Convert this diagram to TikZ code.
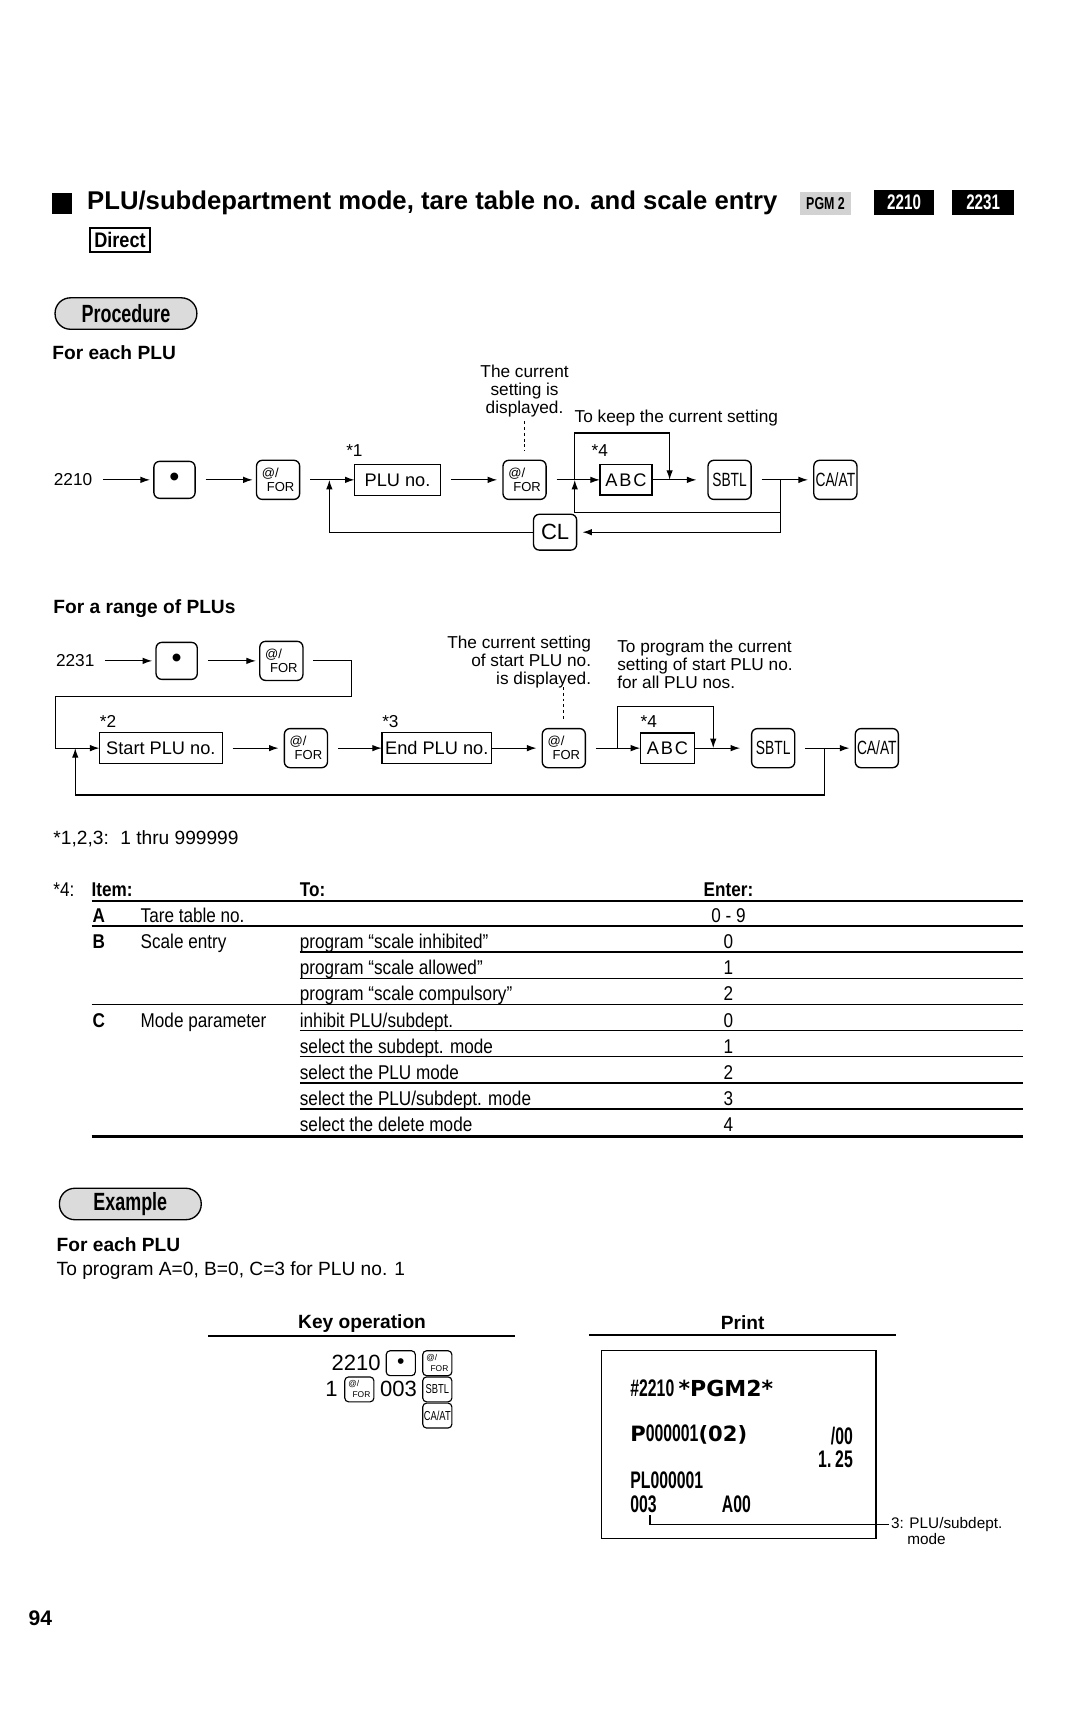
\documentclass[tikz,border=0pt]{standalone}
\usepackage{fontspec}
\setmainfont{Liberation Sans}
\newfontfamily\narrowsf[FakeStretch=0.86]{Liberation Sans}
\newfontfamily\keysf[FakeStretch=0.72]{Liberation Sans}
\newfontfamily\tillsf[FakeStretch=0.66]{Liberation Sans}
\newfontfamily\widesf{DejaVu Sans}
\usetikzlibrary{arrows.meta}

% caption of the @/FOR key
\newcommand{\atfor}[2][0.6pt]{\makebox[#2][l]{@/}\\[#1]\makebox[#2][r]{FOR}}

\begin{document}
\begin{tikzpicture}[x=0.02cm, y=-0.02cm,
    every node/.style={inner sep=0pt, outer sep=0pt},
    txt/.style={font=\fontsize{9}{9.4}\selectfont},
    key/.style={draw, rounded corners=3pt, line width=0.7pt, minimum width=22.5pt, minimum height=20.4pt},
    forkey/.style={key, align=center, font=\fontsize{6.8}{6.8}\selectfont},
    namekey/.style={key, font=\keysf\fontsize{10}{10}\selectfont},
    dotkey/.style={key, minimum width=21.5pt, minimum height=19.3pt, font=\fontsize{15}{15}\selectfont},
    entry/.style={draw, line width=0.7pt, minimum height=16.2pt, font=\fontsize{9.5}{9.5}\selectfont},
    star/.style={font=\fontsize{9}{9}\selectfont},
    arr/.style={-{Latex[length=5pt,width=3.4pt]}, line width=0.6pt},
    hint/.style={line width=0.6pt, dash pattern=on 1.5pt off 1.5pt},
    pill/.style={draw, fill=gray!28, rounded corners=8pt, line width=0.7pt, minimum width=74pt, minimum height=16.4pt, font=\keysf\bfseries\fontsize{13}{13}\selectfont},
    head/.style={anchor=west, font=\bfseries\fontsize{10}{10}\selectfont},
    tcell/.style={anchor=west, text height=7.4pt, text depth=2pt, font=\narrowsf\fontsize{10.4}{10.4}\selectfont},
    thcell/.style={tcell, font=\narrowsf\bfseries\fontsize{10.4}{10.4}\selectfont},
    smallkey/.style={draw, rounded corners=2pt, line width=0.6pt, minimum width=15.2pt, minimum height=13pt},
    smallfor/.style={smallkey, align=center, font=\fontsize{4.4}{4.4}\selectfont},
    till/.style={anchor=west, font=\tillsf\bfseries\fontsize{12.5}{12.5}\selectfont}
]
    \fill[white] (0,0) rectangle (990,1568);
    \useasboundingbox (0,0) rectangle (990,1568);

    % Heading
    \node[fill=black, minimum width=10.2pt, minimum height=10.8pt] (mark) at (57,186.5) {};
    \node[anchor=west, font=\bfseries\fontsize{13.4}{13.4}\selectfont] (title) at (80,186) {PLU/subdepartment mode, tare table no. and scale entry};
    \node[fill=gray!35, minimum width=27pt, minimum height=12pt, font=\keysf\bfseries\fontsize{9}{9}\selectfont] (pgm) at (757,186.5) {PGM 2};
    \node[fill=black, text=white, minimum width=31.7pt, minimum height=13pt, font=\keysf\bfseries\fontsize{11}{11}\selectfont] (mode1) at (829,185.5) {2210};
    \node[fill=black, text=white, minimum width=32.3pt, minimum height=13pt, font=\keysf\bfseries\fontsize{11}{11}\selectfont] (mode2) at (901.5,185.5) {2231};
    \node[draw, line width=1pt, minimum width=31.7pt, minimum height=12.5pt, font=\narrowsf\bfseries\fontsize{11}{11}\selectfont] (direct) at (110,220) {Direct};

    \node[pill] (proc) at (115.5,287.5) {Procedure};
    \node[head] (each) at (48,323) {For each PLU};

    % For each PLU
    \node[txt] (t2210) at (67,440) {2210};
    \node[dotkey] (dotA) at (160,440) {\textbullet};
    \node[forkey] (forA) at (255,440) {\atfor{17pt}};
    \node[star] (st1) at (325,413) {*1};
    \node[entry, minimum width=44.8pt] (plu) at (364.5,440) {PLU no.};
    \node[forkey] (forB) at (481,440) {\atfor{17pt}};
    \node[txt, align=center] (noteA) at (481,359) {The current\\setting is\\displayed.};
    \node[txt, anchor=west] (noteB) at (527,383) {To keep the current setting};
    \node[star] (st4a) at (550,413) {*4};
    \node[entry, minimum width=27.2pt, minimum height=15.9pt] (abcA) at (574,440) {A\kern1pt B\kern1pt C};
    \node[namekey] (sbtlA) at (669,440) {SBTL};
    \node[namekey] (caatA) at (766,440) {CA/AT};
    \node[key, font=\fontsize{11.5}{11.5}\selectfont, minimum height=18.7pt] (clA) at (509,488) {CL};

    \coordinate (jA1) at (302,440);
    \coordinate (jA2) at (527,440);
    \coordinate (kA) at (614,440);
    \coordinate (kAtop) at (614,397);
    \coordinate (jA3) at (716,440);
    \coordinate (lpA) at (527,470);

    \draw[arr, shorten <=5.5pt, shorten >=2pt] (t2210) -- (dotA);
    \draw[arr, shorten <=5.5pt, shorten >=2pt] (dotA) -- (forA);
    \draw[arr, shorten <=5.5pt] (forA) -- (plu);
    \draw[arr, shorten <=5.5pt, shorten >=3pt] (plu) -- (forB);
    \draw[arr, shorten <=5.5pt] (forB) -- (abcA);
    \draw[arr, shorten >=6pt] (abcA) -- (sbtlA);
    \draw[arr, shorten <=5.5pt, shorten >=3pt] (sbtlA) -- (caatA);
    \draw[arr] (jA2) |- (kAtop) -- (kA);
    \draw[arr] (jA3) |- (lpA) -- (jA2);
    \draw[arr, shorten >=3pt] (jA3) |- (clA);
    \draw[arr] (clA) -| (jA1);
    \draw[hint, shorten <=2pt, shorten >=5pt] (noteA) -- (forB);

    % For a range of PLUs
    \node[head] (range) at (49,558) {For a range of PLUs};
    \node[txt] (t2231) at (69,606) {2231};
    \node[dotkey] (dotB) at (162,606) {\textbullet};
    \node[forkey] (forC) at (258,606) {\atfor{17pt}};
    \coordinate (bA) at (322,606);
    \coordinate (bB) at (51,639);
    \node[star] (st2) at (99,662) {*2};
    \node[entry, minimum width=64pt] (startB) at (147.5,686) {Start PLU no.};
    \node[forkey] (forD) at (280.5,686) {\atfor{17pt}};
    \node[star] (st3) at (358,662) {*3};
    \node[entry, minimum width=57.3pt] (endB) at (400.5,686) {End PLU no.};
    \node[forkey] (forE) at (517,686) {\atfor{17pt}};
    \node[txt, align=right, anchor=east] (noteC) at (542,607) {The current setting\\of start PLU no.\\is displayed.};
    \node[txt, align=left, anchor=west] (noteD) at (566,609) {To program the current\\setting of start PLU no.\\for all PLU nos.};
    \coordinate (hintB) at (517,630);
    \node[star] (st4b) at (595,662) {*4};
    \node[entry, minimum width=28.3pt, minimum height=15.9pt] (abcB) at (612,686) {A\kern1pt B\kern1pt C};
    \node[namekey] (sbtlB) at (709,686) {SBTL};
    \node[namekey] (caatB) at (804,686) {CA/AT};

    \coordinate (jB1) at (69,686);
    \coordinate (jB2) at (566,686);
    \coordinate (kB) at (654,686);
    \coordinate (kBtop) at (654,648);
    \coordinate (jB3) at (756,686);
    \coordinate (lpB) at (69,729);

    \draw[arr, shorten <=5.5pt, shorten >=2pt] (t2231) -- (dotB);
    \draw[arr, shorten <=5.5pt, shorten >=2pt] (dotB) -- (forC);
    \draw[arr, shorten <=5.5pt] (forC) -- (bA) |- (bB) |- (startB);
    \draw[arr, shorten <=5.5pt, shorten >=3pt] (startB) -- (forD);
    \draw[arr, shorten <=5.5pt] (forD) -- (endB);
    \draw[arr, shorten >=3pt] (endB) -- (forE);
    \draw[arr, shorten <=5.5pt] (forE) -- (abcB);
    \draw[arr, shorten >=6pt] (abcB) -- (sbtlB);
    \draw[arr, shorten <=5.5pt, shorten >=3pt] (sbtlB) -- (caatB);
    \draw[arr] (jB2) |- (kBtop) -- (kB);
    \draw[arr] (jB3) |- (lpB) -- (jB1);
    \draw[hint, shorten >=4pt] (hintB) -- (forE);

    \node[anchor=west, font=\fontsize{10}{10}\selectfont] (limits) at (49,769) {*1,2,3:\hspace{0.6em}1 thru 999999};

    % Table *4
    \node[tcell] (t4) at (49,817) {*4:};
    \node[thcell] (thItem) at (84,817) {Item:};
    \node[thcell] (thTo) at (275,817) {To:};
    \node[thcell, anchor=center] (thEnter) at (668,817) {Enter:};
    \draw[line width=1.3pt] (84,826) -- (938,826);

    \node[thcell] (rA) at (85,841) {A};
    \node[tcell] (rAname) at (129,841) {Tare table no.};
    \node[tcell, anchor=center] (rAval) at (668,841) {0 - 9};
    \draw[line width=0.7pt] (84,849) -- (938,849);

    \node[thcell] (rB) at (85,865) {B};
    \node[tcell] (rBname) at (129,865) {Scale entry};
    \node[tcell] (toB1) at (275,865) {program “scale inhibited”};
    \node[tcell, anchor=center] (vB1) at (668,865) {0};
    \draw[line width=0.7pt] (275,873) -- (938,873);
    \node[tcell] (toB2) at (275,889) {program “scale allowed”};
    \node[tcell, anchor=center] (vB2) at (668,889) {1};
    \draw[line width=0.7pt] (275,897) -- (938,897);
    \node[tcell] (toB3) at (275,913) {program “scale compulsory”};
    \node[tcell, anchor=center] (vB3) at (668,913) {2};
    \draw[line width=0.7pt] (84,921) -- (938,921);

    \node[thcell] (rC) at (85,937) {C};
    \node[tcell] (rCname) at (129,937) {Mode parameter};
    \node[tcell] (toC1) at (275,937) {inhibit PLU/subdept.};
    \node[tcell, anchor=center] (vC1) at (668,937) {0};
    \draw[line width=0.7pt] (275,945) -- (938,945);
    \node[tcell] (toC2) at (275,961) {select the subdept. mode};
    \node[tcell, anchor=center] (vC2) at (668,961) {1};
    \draw[line width=0.7pt] (275,969) -- (938,969);
    \node[tcell] (toC3) at (275,985) {select the PLU mode};
    \node[tcell, anchor=center] (vC3) at (668,985) {2};
    \draw[line width=0.7pt] (275,993) -- (938,993);
    \node[tcell] (toC4) at (275,1009) {select the PLU/subdept. mode};
    \node[tcell, anchor=center] (vC4) at (668,1009) {3};
    \draw[line width=0.7pt] (275,1017) -- (938,1017);
    \node[tcell] (toC5) at (275,1033) {select the delete mode};
    \node[tcell, anchor=center] (vC5) at (668,1033) {4};
    \draw[line width=1.3pt] (84,1042) -- (938,1042);

    % Example
    \node[pill] (expl) at (119.5,1104) {Example};
    \node[head] (each2) at (52,1141) {For each PLU};
    \node[anchor=west, font=\fontsize{10}{10}\selectfont] (task) at (52,1165) {To program A=0, B=0, C=3 for PLU no. 1};

    \node[font=\bfseries\fontsize{10}{10}\selectfont] (kohead) at (332,1214) {Key operation};
    \draw[line width=0.8pt] (191,1225) -- (472,1225);
    \node[font=\bfseries\fontsize{10}{10}\selectfont] (prhead) at (681,1213) {Print};
    \draw[line width=0.8pt] (540,1224) -- (822,1224);

    \node[font=\fontsize{11.5}{11.5}\selectfont] (k2210) at (326.5,1250) {2210};
    \node[smallkey, font=\fontsize{11}{11}\selectfont] (kdot) at (367.5,1250) {\textbullet};
    \node[smallfor] (kfor1) at (401,1250) {\atfor[1.4pt]{11.5pt}};
    \node[font=\fontsize{11.5}{11.5}\selectfont] (k1) at (304,1274) {1};
    \node[smallfor] (kfor2) at (329.5,1274) {\atfor[1.4pt]{11.5pt}};
    \node[font=\fontsize{11.5}{11.5}\selectfont] (k003) at (365.5,1274) {003};
    \node[smallkey, font=\keysf\fontsize{6.8}{6.8}\selectfont] (ksbtl) at (401,1274) {SBTL};
    \node[smallkey, font=\keysf\fontsize{6.8}{6.8}\selectfont] (kcaat) at (401,1298) {CA/AT};

    % Print slip
    \node[draw, line width=0.8pt, minimum width=143.4pt, minimum height=98pt] (slip) at (677.5,1324.5) {};
    \node[till] (p1) at (578,1273) {\#2210 {\widesf\bfseries\fontsize{11.5}{11.5}\selectfont *PGM2*}};
    \node[till] (p2) at (578,1315) {{\widesf\bfseries\fontsize{11}{11}\selectfont P}000001{\widesf\bfseries\fontsize{11}{11}\selectfont (02)}};
    \node[till, anchor=east] (p3) at (782,1317) {/00};
    \node[till, anchor=east] (p4) at (782,1338) {1.\kern2pt25};
    \node[till] (p5) at (578,1357) {PL000001};
    \node[till] (p6) at (578,1379) {003};
    \node[till] (p7) at (662,1379) {A00};
    \coordinate (ldEnd) at (815,1398);
    \draw[line width=0.6pt, shorten <=1.5pt] ([xshift=-3.5pt]p6.south east) |- (ldEnd);
    \node[anchor=north west, align=left, font=\fontsize{8}{8.5}\selectfont] (ldNote) at (817,1391) {3: PLU/subdept.\\\hspace*{8.5pt}mode};

    \node[font=\bfseries\fontsize{11}{11}\selectfont] (page) at (37,1484) {94};
\end{tikzpicture}
\end{document}
